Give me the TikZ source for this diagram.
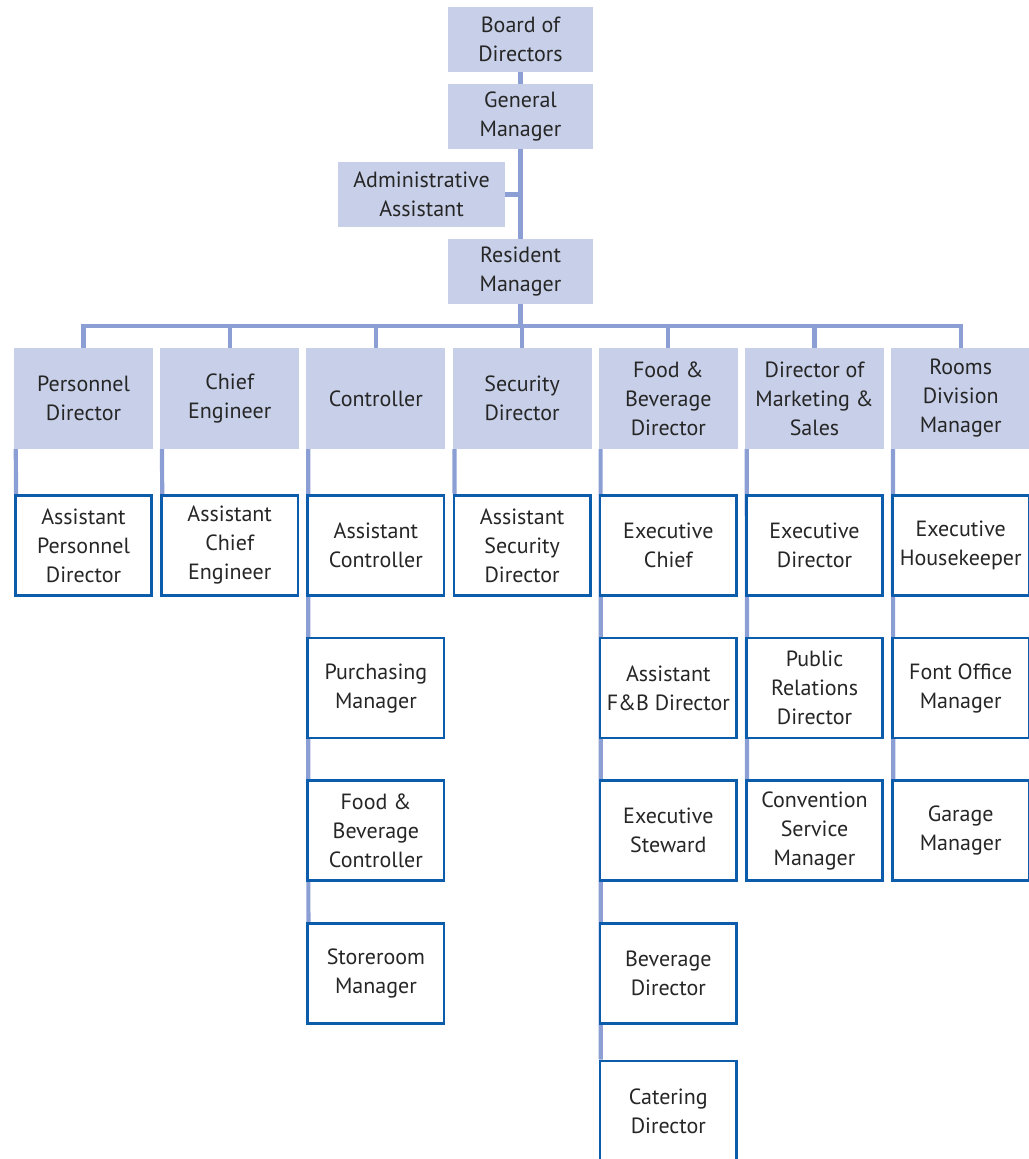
\documentclass[tikz,border=0pt]{standalone}
\usepackage{fontspec}
\setmainfont{PT Sans}
\usepackage{xcolor}
\usetikzlibrary{positioning,backgrounds}
\definecolor{topfill}{HTML}{C8D0E9}
\definecolor{linkblue}{HTML}{8B9FD4}
\definecolor{edgeblue}{HTML}{0B5CAB}
\definecolor{txtgray}{HTML}{262626}

\begin{document}
\begin{tikzpicture}[x=1pt, y=1pt, node distance=40pt and 6.8pt, every node/.style={font=\fontsize{22}{29}\selectfont, text=txtgray, align=center, inner sep=0pt}, top/.style={fill=topfill, minimum width=145pt, minimum height=65pt}, head/.style={fill=topfill, minimum width=139pt, minimum height=101pt}, sub/.style={draw=edgeblue, line width=2.6pt, fill=white, minimum width=136.4pt, minimum height=100pt}, link/.style={draw=linkblue, line width=4.2pt}]
\useasboundingbox (0,0) rectangle (1028,-1159);
% top of the tree
\node[top] (bod) at (520.5,-39.5) {Board of\\ Directors};
\node[top] (gm) at (520.5,-116.5) {General\\ Manager};
\node[top, minimum width=167pt] (adm) at (421.5,-194.5) {Administrative\\ Assistant};
\node[top] (rm) at (520.5,-271.5) {Resident\\ Manager};
% department heads
\node[head] (pers) at (83.5,-398.5) {Personnel\\ Director};
\node[head, right=of pers] (cheng) {Chief\\ Engineer};
\node[head, right=of cheng] (ctrl) {Controller};
\node[head, right=of ctrl] (sec) {Security\\ Director};
\node[head, right=of sec] (fb) {Food \&\\ Beverage\\ Director};
\node[head, right=of fb] (mkt) {Director of\\ Marketing \&\\ Sales};
\node[head, right=of mkt] (rooms) {Rooms\\ Division\\ Manager};
% staff under each head
\node[sub, below=45pt of pers] (apers) {Assistant\\ Personnel\\ Director};
\node[sub, below=45pt of cheng] (acheng) {Assistant\\ Chief\\ Engineer};
\node[sub, below=45pt of ctrl] (actrl) {Assistant\\ Controller};
\node[sub, below=45pt of sec] (asec) {Assistant\\ Security\\ Director};
\node[sub, below=45pt of fb] (chef) {Executive\\ Chief};
\node[sub, below=45pt of mkt] (exdir) {Executive\\ Director};
\node[sub, below=45pt of rooms] (house) {Executive\\ Housekeeper};
\node[sub, below=of actrl] (purch) {Purchasing\\ Manager};
\node[sub, below=of purch] (fbctrl) {Food \&\\ Beverage\\ Controller};
\node[sub, below=of fbctrl] (store) {Storeroom\\ Manager};
\node[sub, below=of chef] (afb) {Assistant\\ F\&B Director};
\node[sub, below=of afb] (steward) {Executive\\ Steward};
\node[sub, below=of steward] (bev) {Beverage\\ Director};
\node[sub, below=35pt of bev] (cater) {Catering\\ Director};
\node[sub, below=of exdir] (pr) {Public\\ Relations\\ Director};
\node[sub, below=of pr] (conv) {Convention\\ Service\\ Manager};
\node[sub, below=of house] (front) {Font Office\\ Manager};
\node[sub, below=of front] (garage) {Garage\\ Manager};
\coordinate (bus) at (0,-326);
% connectors
\begin{scope}[on background layer]
\draw[link] (bod) -- (gm); \draw[link] (gm) -- (rm);
\draw[link] (adm.east) -- (adm.east -| gm.south);
\draw[link] (rm.south) -- (rm.south |- bus);
\draw[link] (pers.north) -- (pers.north |- bus) -- (rooms.north |- bus) -- (rooms.north);
\foreach \h in {cheng,ctrl,sec,fb,mkt} \draw[link] (\h.north) -- (\h.north |- bus);
\foreach \h/\l in {pers/apers,cheng/acheng,ctrl/store,sec/asec,fb/cater,mkt/conv,rooms/garage}
  \draw[link] ([xshift=2pt]\h.south west) -- ([xshift=2pt]\l.north west);
\end{scope}
\end{tikzpicture}
\end{document}
